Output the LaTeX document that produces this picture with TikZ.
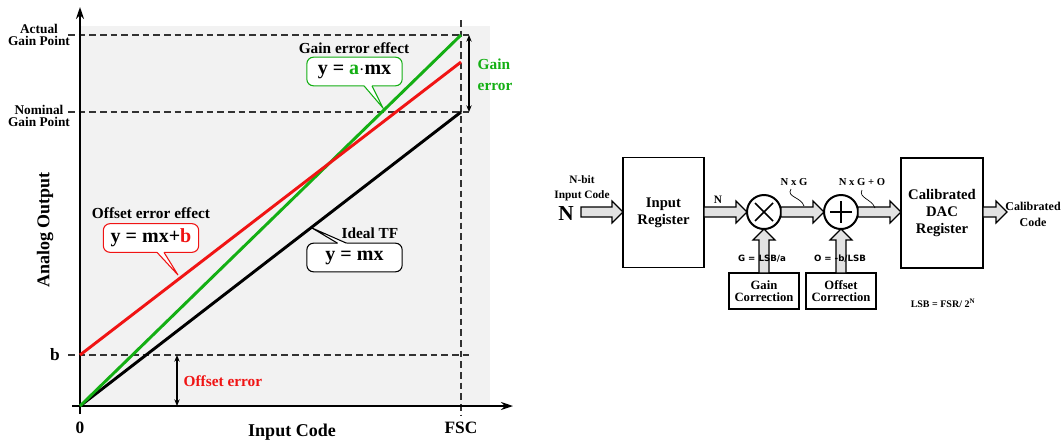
\documentclass[tikz,border=0pt]{standalone}
\usepackage{fontspec}
\setmainfont{Liberation Serif}
\newfontfamily\lblfont{DejaVu Sans}
\usetikzlibrary{arrows.meta,calc}
\definecolor{myred}{RGB}{240,20,20}
\definecolor{mygreen}{RGB}{20,175,20}
\definecolor{bggray}{RGB}{242,242,242}
\definecolor{arrgray}{RGB}{226,226,226}
\newcommand\fs[2]{\fontsize{#1}{#2}\selectfont}
% horizontal block arrow from #1 to #2 (height taken from #1)
\newcommand\blkH[2]{\draw[blk] let \p1=(#1),\p2=(#2) in
  (\x1,\y1+3.75pt) -- (\x2-8.25pt,\y1+3.75pt) -- (\x2-8.25pt,\y1+8.25pt) -- (\x2,\y1)
  -- (\x2-8.25pt,\y1-8.25pt) -- (\x2-8.25pt,\y1-3.75pt) -- (\x1,\y1-3.75pt) -- cycle;}
% vertical block arrow pointing up from #1 to #2
\newcommand\blkV[2]{\draw[blk] let \p1=(#1),\p2=(#2) in
  (\x1-3.75pt,\y1) -- (\x1-3.75pt,\y2-8.25pt) -- (\x1-8.25pt,\y2-8.25pt) -- (\x1,\y2)
  -- (\x1+8.25pt,\y2-8.25pt) -- (\x1+3.75pt,\y2-8.25pt) -- (\x1+3.75pt,\y1) -- cycle;}
\begin{document}
\begin{tikzpicture}[x=0.75pt,y=-0.75pt,font=\bfseries,
  dashln/.style={line width=0.8pt,dash pattern=on 5pt off 3pt,black!80},
  axisln/.style={line width=1.5pt},
  tfline/.style={line width=2.2pt},
  dim/.style={line width=0.8pt,{Stealth[length=5pt,width=4pt]}-{Stealth[length=5pt,width=4pt]}},
  callout/.style={draw,fill=white,rounded corners=5pt,line width=0.8pt,
     minimum width=71.5pt,minimum height=21.5pt,inner sep=0pt,outer sep=0pt,font=\bfseries\fs{15}{15}},
  lbl/.style={font=\bfseries\fs{11.5}{12}},
  blk/.style={fill=arrgray,draw=black,line width=0.9pt,line join=miter},
  regbox/.style={draw,line width=1.3pt,align=center,inner sep=0pt,outer sep=0pt,font=\bfseries\fs{11}{12.6}},
  corrbox/.style={draw,line width=2pt,align=center,inner sep=0pt,outer sep=0pt,
     minimum width=52.5pt,minimum height=27pt,font=\bfseries\fs{9.5}{9.5}},
  op/.style={circle,draw,line width=1.5pt,minimum size=25.5pt,inner sep=0pt,outer sep=0pt,fill=white},
  small/.style={font=\bfseries\fs{8.5}{11}}
]
\useasboundingbox (0,0) rectangle (1063,444);

% ---------------- left plot ----------------
\fill[bggray] (80,26) rectangle (490,406);
\coordinate (O) at (80,406);
\coordinate (B) at (80,355);
\coordinate (Nom) at (461,112);
\coordinate (Act) at (461,35);
\coordinate (RedEnd) at (461,62);

\draw[dashln] (68,35) -- (472,35);
\draw[dashln] (68,112) -- (472,112);
\draw[dashln] (68,355) -- (472,355);
\draw[dashln] (461,20) -- (461,416);

\draw[axisln,-{Stealth[length=9pt,width=6pt]}] (80,414) -- (80,7);
\draw[axisln,-{Stealth[length=9pt,width=6pt]}] (72,406) -- (513,406);

\draw[tfline,black] (O) -- (Nom);
\draw[tfline,mygreen] (O) -- (Act);
\draw[tfline,myred] (B) -- (RedEnd);

\coordinate (gt) at (469,35); \coordinate (gb) at (469,112);
\draw[dim] (gt) -- (gb);
\coordinate (ot) at (177,355); \coordinate (ob) at (177,406);
\draw[dim] (ot) -- (ob);

\node[font=\bfseries\fs{10}{8.5},align=center] (actl) at (39,35) {Actual\\Gain Point};
\node[font=\bfseries\fs{10}{8.5},align=center] (noml) at (39,116) {Nominal\\Gain Point};
\node[font=\bfseries\fs{13}{13}] (bl) at (55,355) {b};
\node[font=\bfseries\fs{13}{13}] (zl) at (80,428) {0};
\node[font=\bfseries\fs{13}{13}] (fscl) at (461,428) {FSC};
\node[font=\bfseries\fs{13.5}{13.5}] (icl) at (292,432) {Input Code};
\node[font=\bfseries\fs{13.5}{13.5},rotate=90] (aol) at (45,230) {Analog Output};

\node[lbl,text=mygreen,anchor=west,align=left,font=\bfseries\fs{11.5}{16}] (gel) at (473,75) {Gain\\error};
\node[lbl,text=myred,anchor=west] (oel) at (179,381) {Offset error};

% gain error effect callout
\node[lbl] (gee) at (354,48) {Gain error effect};
\node[callout,draw=mygreen] (gbox) at (354.5,71.5) {y = {\color{mygreen}a}$\cdot$mx};
\fill[white] ($(gbox.south)+(9.5,-3)$) -- ($(gbox.south)+(17.5,-3)$) -- ($(gbox.south)+(17.5,0)$) -- (383,108) -- ($(gbox.south)+(9.5,0)$) -- cycle;
\draw[mygreen,line width=0.8pt] ($(gbox.south)+(9.5,0)$) -- (383,108) -- ($(gbox.south)+(17.5,0)$);

% offset error effect callout
\node[lbl] (oee) at (151,213) {Offset error effect};
\node[callout,draw=myred] (obox) at (151,238) {y = mx+{\color{myred}b}};
\fill[white] ($(obox.south)+(6,-3)$) -- ($(obox.south)+(13,-3)$) -- ($(obox.south)+(13,0)$) -- (178,275) -- ($(obox.south)+(6,0)$) -- cycle;
\draw[myred,line width=0.8pt] ($(obox.south)+(6,0)$) -- (178,275) -- ($(obox.south)+(13,0)$);

% ideal TF callout
\node[lbl] (itf) at (370,233) {Ideal TF};
\node[callout,draw=black] (ibox) at (354.5,257.5) {y = mx};
\fill[white] ($(ibox.north)+(-17,3)$) -- ($(ibox.north)+(-8,3)$) -- ($(ibox.north)+(-8,0)$) -- (312,228) -- ($(ibox.north)+(-17,0)$) -- cycle;
\draw[black,line width=0.8pt] ($(ibox.north)+(-17,0)$) -- (312,228) -- ($(ibox.north)+(-8,0)$);

% ---------------- right block diagram ----------------
\node[regbox,minimum width=60.75pt,minimum height=82.5pt] (inreg) at (663.5,212.5) {Input\\Register};
\node[op] (mul) at (764,212) {};
\draw[line width=1.3pt] ($(mul.center)+(-9,-9)$) -- ($(mul.center)+(9,9)$);
\draw[line width=1.3pt] ($(mul.center)+(-9,9)$) -- ($(mul.center)+(9,-9)$);
\node[op] (add) at (841,212) {};
\draw[line width=1.3pt] ($(add.center)+(-11,0)$) -- ($(add.center)+(11,0)$);
\draw[line width=1.3pt] ($(add.center)+(0,-11)$) -- ($(add.center)+(0,11)$);
\node[regbox,minimum width=61.5pt,minimum height=83pt] (cal) at (942,213) {Calibrated\\DAC\\Register};
\node[corrbox] (gc) at (764,291) {Gain\\Correction};
\node[corrbox] (oc) at (841,291) {Offset\\Correction};

\coordinate (inN) at (581,212);
\coordinate (outC) at (1007,212);
\blkH{inN}{inreg.west}
\blkH{$(inreg.east)+(0,-0.5)$}{mul.west}
\blkH{mul.east}{add.west}
\blkH{add.east}{cal.west}
\blkH{$(cal.east)+(0,-1)$}{outC}
\blkV{gc.north}{mul.south}
\blkV{oc.north}{add.south}

\node[small,align=center] (nbit) at (582,188.5) {N-bit\\Input Code};
\node[font=\bfseries\fs{16}{16}] (bigN) at (566,214) {N};
\node[small] (nl) at (718,200) {N};
\node[small,font=\bfseries\fs{8}{8}] (nxg) at (794,182) {N x G};
\node[small,font=\bfseries\fs{8}{8}] (nxgo) at (862,182) {N x G + O};
\draw[line width=0.5pt] (791,189) .. controls (786,197) and (801,197) .. (804,206);
\draw[line width=0.5pt] (862,190) .. controls (858,198) and (872,199) .. (875,208);
\node[small,align=center,font=\bfseries\fs{9}{11.5}] (cc) at (1033,214.5) {Calibrated\\Code};
\node[font=\lblfont\bfseries\fs{6.5}{6.5}] (gl) at (762,259) {G = LSB/a};
\node[font=\lblfont\bfseries\fs{6.5}{6.5}] (ol) at (840,259) {O = -b/LSB};
\node[font=\bfseries\fs{7.5}{7.5}] (lsb) at (943,303) {LSB = FSR/ 2\textsuperscript{N}};
\end{tikzpicture}
\end{document}
